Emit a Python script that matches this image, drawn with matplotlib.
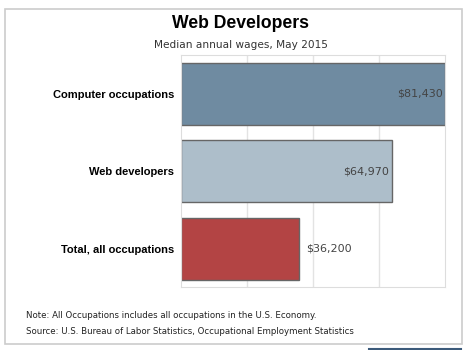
import matplotlib.pyplot as plt
from matplotlib.patches import Rectangle

categories = ["Computer occupations", "Web developers", "Total, all occupations"]
wages = [81430, 64970, 36200]
wage_labels = ["$81,430", "$64,970", "$36,200"]
colors = ["#6f8ba1", "#adbeca", "#b34444"]

fig = plt.figure(figsize=(4.67, 3.5), dpi=100)
W, H = 467, 350

# outer frame
fig.patches.append(Rectangle((5 / W, 1 - 344 / H), 457 / W, 335 / H,
                             transform=fig.transFigure, fill=False,
                             edgecolor="#cccccc", linewidth=1.2))
fig.add_artist(plt.Line2D([369 / W, 461 / W], [1 - 349 / H, 1 - 349 / H],
                          transform=fig.transFigure, color="#3b5a7a", linewidth=1.5))

ax = fig.add_axes([181 / W, 1 - 287.3 / H, 264.5 / W, 232 / H])
y = range(len(categories))
ax.barh(y, wages, height=0.8, color=colors, edgecolor="#666666", linewidth=1)
ax.set_xlim(0, max(wages))
ax.set_ylim(len(categories) - 0.5, -0.5)
ax.set_xticks([max(wages) * k / 4 for k in range(1, 4)])
ax.xaxis.grid(True, color="#e3e3e3", linewidth=1)
ax.set_axisbelow(True)
ax.tick_params(length=0, labelbottom=False)
ax.set_yticks(list(y))
ax.set_yticklabels(categories, family="Liberation Sans", fontweight="bold", fontsize=8)
ax.tick_params(axis="y", pad=5)
for s in ax.spines.values():
    s.set_color("#dddddd")

for i, (v, lab) in enumerate(zip(wages, wage_labels)):
    if v > 0.6 * max(wages):
        ax.text(v - max(wages) * 0.01, i, lab, ha="right", va="center",
                fontsize=8, color="#444444", family="DejaVu Sans")
    else:
        ax.text(v + max(wages) * 0.03, i, lab, ha="left", va="center",
                fontsize=8, color="#444444", family="DejaVu Sans")

fig.text(241 / W, 1 - 24 / H, "Web Developers", ha="center", va="center",
         family="Liberation Sans", fontweight="bold", fontsize=12.7)
fig.text(241 / W, 1 - 45 / H, "Median annual wages, May 2015", ha="center",
         va="center", family="DejaVu Sans", fontsize=7.6, color="#333333")
fig.text(26 / W, 1 - 315.5 / H,
         "Note: All Occupations includes all occupations in the U.S. Economy.",
         ha="left", va="center", family="DejaVu Sans", fontsize=6.2, color="#222222")
fig.text(26 / W, 1 - 332 / H,
         "Source: U.S. Bureau of Labor Statistics, Occupational Employment Statistics",
         ha="left", va="center", family="DejaVu Sans", fontsize=6.2, color="#222222")

fig.savefig("out.png", dpi=100)
